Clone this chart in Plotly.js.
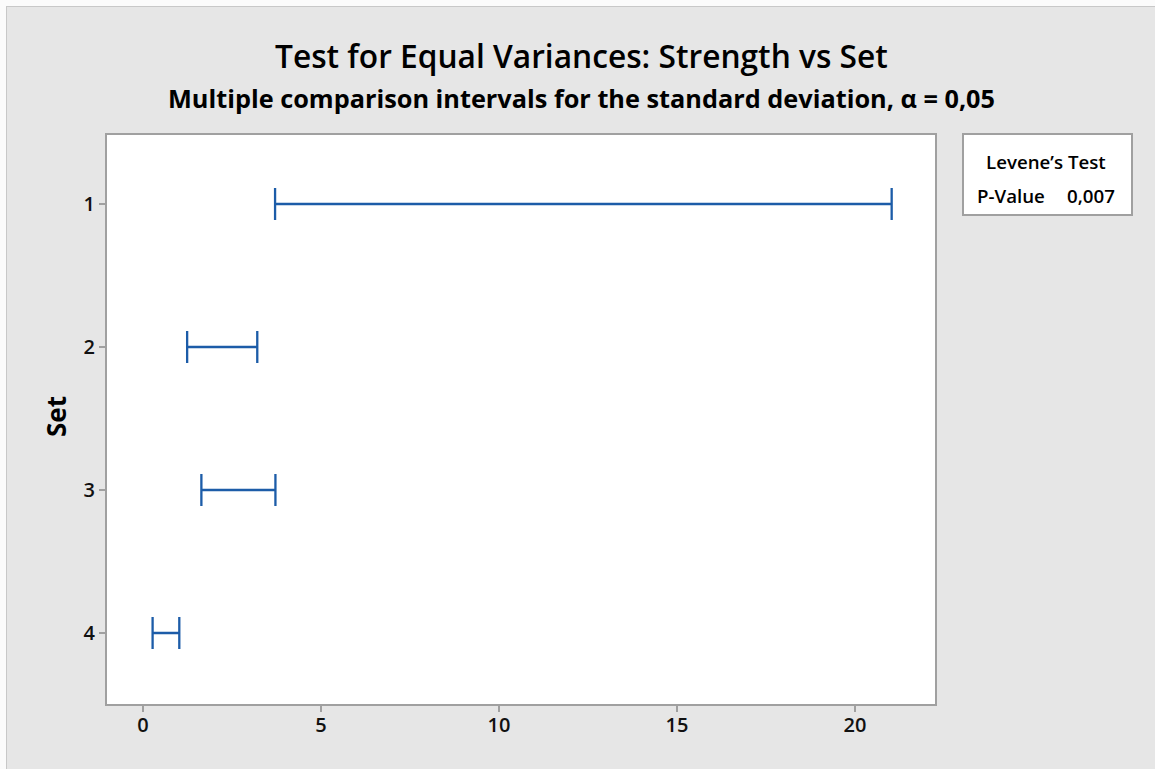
<!DOCTYPE html>
<html><head><meta charset="utf-8">
<script src="https://cdn.plot.ly/plotly-3.0.1.min.js"></script>
<style>
html,body{margin:0;padding:0;background:#fbfbfb;width:1155px;height:769px;overflow:hidden;}
#frame{position:absolute;left:6px;top:6px;width:1149px;height:763px;border-left:1px solid #c8c8c8;border-top:1px solid #c8c8c8;background:#e6e6e6;}
#chart{width:1148px;height:762px;}
</style></head><body><div id="frame"><div id="chart"></div></div>
<script>
// ---- data ----
const setLabels = ['1', '2', '3', '4'];
const setPos = [1, 2, 3, 4];
const lowerCI = [3.71, 1.24, 1.64, 0.27];
const upperCI = [21.03, 3.21, 3.72, 1.02];
const xTickVals = [0, 5, 10, 15, 20];
const xTickText = ['0', '5', '10', '15', '20'];
const chartTitle = 'Test for Equal Variances: Strength vs Set';
const chartSubtitle = 'Multiple comparison intervals for the standard deviation, α = 0,05';
const yTitle = 'Set';
const testName = 'Levene’s Test';
const pLabel = 'P-Value';
const pValue = '0,007';

// ---- layout helpers ----
const W = 1148, H = 762;
const M = {l: 100, r: 220, t: 128, b: 65};
const PW = W - M.l - M.r, PH = H - M.t - M.b;
const px = x => (x - 7 - M.l) / PW;      // page px -> paper x
const py = y => 1 - (y - 7 - M.t) / PH;  // page px -> paper y

const FONT = '"Open Sans", "Noto Sans", sans-serif';
const BLUE = '#1c5ca8';
const GRAY = '#a0a0a0';

const centers = lowerCI.map((lo, i) => (lo + upperCI[i]) / 2);
const trace = {
  type: 'scatter', mode: 'markers',
  x: centers, y: setPos,
  marker: {size: 1, opacity: 0, color: BLUE},
  error_x: {
    type: 'data', symmetric: false,
    array: upperCI.map((hi, i) => hi - centers[i]),
    arrayminus: lowerCI.map((lo, i) => centers[i] - lo),
    color: BLUE, thickness: 2.3, width: 16
  },
  hoverinfo: 'skip'
};

const tickFont = {family: FONT, size: 20, color: '#111', weight: 600};
const legFont = {family: FONT, size: 18.7, color: '#000', weight: 600};

const layout = {
  width: W, height: H,
  margin: {l: M.l, r: M.r, t: M.t, b: M.b, pad: 0},
  paper_bgcolor: '#e6e6e6', plot_bgcolor: '#ffffff',
  showlegend: false,
  xaxis: {
    range: [-1.011, 22.247], tickvals: xTickVals, ticktext: xTickText,
    ticks: 'outside', ticklen: 6, tickwidth: 1.5, tickcolor: GRAY,
    showline: true, mirror: true, linecolor: GRAY, linewidth: 2,
    showgrid: false, zeroline: false, tickfont: tickFont, ticklabelstandoff: -4
  },
  yaxis: {
    range: [4.4965, 0.5175], tickvals: setPos, ticktext: setLabels,
    ticks: 'outside', ticklen: 6, tickwidth: 1.5, tickcolor: GRAY,
    showline: true, mirror: true, linecolor: GRAY, linewidth: 2,
    showgrid: false, zeroline: false, tickfont: tickFont, ticklabelstandoff: 0
  },
  shapes: [{
    type: 'rect', xref: 'paper', yref: 'paper',
    x0: px(963), x1: px(1132), y0: py(134), y1: py(215),
    fillcolor: '#ffffff', line: {color: GRAY, width: 2}
  }],
  annotations: [
    {text: chartTitle, xref: 'paper', yref: 'paper', x: px(581.5), y: py(55.6),
     xanchor: 'center', yanchor: 'middle', showarrow: false,
     font: {family: FONT, size: 31.7, color: '#000', weight: 600}},
    {text: chartSubtitle, xref: 'paper', yref: 'paper', x: px(581.5), y: py(97.5),
     xanchor: 'center', yanchor: 'middle', showarrow: false,
     font: {family: FONT, size: 25.3, color: '#000', weight: 700}},
    {text: yTitle, xref: 'paper', yref: 'paper', x: px(56), y: py(417),
     xanchor: 'center', yanchor: 'middle', showarrow: false, textangle: -90,
     font: {family: FONT, size: 26, color: '#000', weight: 700}},
    {text: testName, xref: 'paper', yref: 'paper', x: px(1046), y: py(161),
     xanchor: 'center', yanchor: 'middle', showarrow: false, font: legFont},
    {text: pLabel, xref: 'paper', yref: 'paper', x: px(975), y: py(195),
     xanchor: 'left', yanchor: 'middle', showarrow: false, font: legFont},
    {text: pValue, xref: 'paper', yref: 'paper', x: px(1116.5), y: py(195),
     xanchor: 'right', yanchor: 'middle', showarrow: false, font: legFont}
  ]
};

Plotly.newPlot('chart', [trace], layout, {staticPlot: true, displayModeBar: false});
</script>
</body></html>
